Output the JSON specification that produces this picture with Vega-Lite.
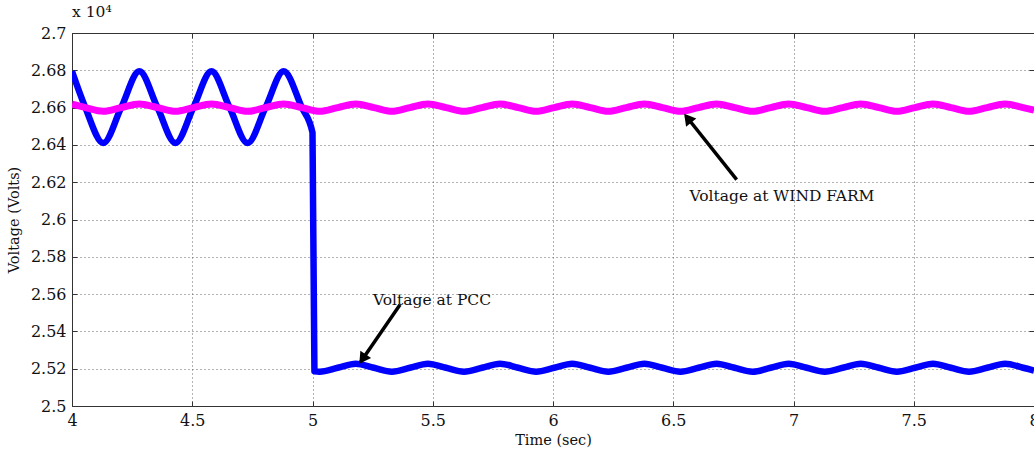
{
  "$schema": "https://vega.github.io/schema/vega-lite/v6.json",
  "width": 962,
  "height": 373,
  "autosize": "none",
  "padding": {"left": 72, "top": 33, "right": 0, "bottom": 45},
  "background": "white",
  "config": {"view": {"stroke": null}, "font": "DejaVu Serif"},
  "title": {"text": "x 10⁴", "anchor": "start", "frame": "group", "fontSize": 15.5, "font": "DejaVu Serif", "fontWeight": "normal", "offset": 5, "color": "#111"},
  "datasets": {
    "pcc": [
      {"t": 4.000, "v": 26795}, {"t": 4.055, "v": 26602}, {"t": 4.130, "v": 26410}, {"t": 4.205, "v": 26602},
      {"t": 4.280, "v": 26795}, {"t": 4.355, "v": 26602}, {"t": 4.430, "v": 26410}, {"t": 4.505, "v": 26602},
      {"t": 4.580, "v": 26795}, {"t": 4.655, "v": 26602}, {"t": 4.730, "v": 26410}, {"t": 4.805, "v": 26602},
      {"t": 4.880, "v": 26795}, {"t": 4.955, "v": 26602}, {"t": 5.000, "v": 26466}, {"t": 5.008, "v": 25186},
      {"t": 5.030, "v": 25184}, {"t": 5.105, "v": 25205}, {"t": 5.180, "v": 25227}, {"t": 5.255, "v": 25205},
      {"t": 5.330, "v": 25184}, {"t": 5.405, "v": 25205}, {"t": 5.480, "v": 25227}, {"t": 5.555, "v": 25205},
      {"t": 5.630, "v": 25184}, {"t": 5.705, "v": 25205}, {"t": 5.780, "v": 25227}, {"t": 5.855, "v": 25205},
      {"t": 5.930, "v": 25184}, {"t": 6.005, "v": 25205}, {"t": 6.080, "v": 25227}, {"t": 6.155, "v": 25205},
      {"t": 6.230, "v": 25184}, {"t": 6.305, "v": 25205}, {"t": 6.380, "v": 25227}, {"t": 6.455, "v": 25205},
      {"t": 6.530, "v": 25184}, {"t": 6.605, "v": 25205}, {"t": 6.680, "v": 25227}, {"t": 6.755, "v": 25205},
      {"t": 6.830, "v": 25184}, {"t": 6.905, "v": 25205}, {"t": 6.980, "v": 25227}, {"t": 7.055, "v": 25205},
      {"t": 7.130, "v": 25184}, {"t": 7.205, "v": 25205}, {"t": 7.280, "v": 25227}, {"t": 7.355, "v": 25205},
      {"t": 7.430, "v": 25184}, {"t": 7.505, "v": 25205}, {"t": 7.580, "v": 25227}, {"t": 7.655, "v": 25205},
      {"t": 7.730, "v": 25184}, {"t": 7.805, "v": 25205}, {"t": 7.880, "v": 25227}, {"t": 7.955, "v": 25205},
      {"t": 8.000, "v": 25190}
    ],
    "wind": [
      {"t": 4.000, "v": 26618}, {"t": 4.055, "v": 26600}, {"t": 4.130, "v": 26580}, {"t": 4.205, "v": 26600},
      {"t": 4.280, "v": 26619}, {"t": 4.355, "v": 26600}, {"t": 4.430, "v": 26580}, {"t": 4.505, "v": 26600},
      {"t": 4.580, "v": 26619}, {"t": 4.655, "v": 26600}, {"t": 4.730, "v": 26580}, {"t": 4.805, "v": 26600},
      {"t": 4.880, "v": 26619}, {"t": 4.955, "v": 26600}, {"t": 5.030, "v": 26580}, {"t": 5.105, "v": 26600},
      {"t": 5.180, "v": 26619}, {"t": 5.255, "v": 26600}, {"t": 5.330, "v": 26580}, {"t": 5.405, "v": 26600},
      {"t": 5.480, "v": 26619}, {"t": 5.555, "v": 26600}, {"t": 5.630, "v": 26580}, {"t": 5.705, "v": 26600},
      {"t": 5.780, "v": 26619}, {"t": 5.855, "v": 26600}, {"t": 5.930, "v": 26580}, {"t": 6.005, "v": 26600},
      {"t": 6.080, "v": 26619}, {"t": 6.155, "v": 26600}, {"t": 6.230, "v": 26580}, {"t": 6.305, "v": 26600},
      {"t": 6.380, "v": 26619}, {"t": 6.455, "v": 26600}, {"t": 6.530, "v": 26580}, {"t": 6.605, "v": 26600},
      {"t": 6.680, "v": 26619}, {"t": 6.755, "v": 26600}, {"t": 6.830, "v": 26580}, {"t": 6.905, "v": 26600},
      {"t": 6.980, "v": 26619}, {"t": 7.055, "v": 26600}, {"t": 7.130, "v": 26580}, {"t": 7.205, "v": 26600},
      {"t": 7.280, "v": 26619}, {"t": 7.355, "v": 26600}, {"t": 7.430, "v": 26580}, {"t": 7.505, "v": 26600},
      {"t": 7.580, "v": 26619}, {"t": 7.655, "v": 26600}, {"t": 7.730, "v": 26580}, {"t": 7.805, "v": 26600},
      {"t": 7.880, "v": 26619}, {"t": 7.955, "v": 26600}, {"t": 8.000, "v": 26586}
    ],
    "arrows": [
      {"arrow": "pcc", "t": 5.3638, "v": 25543},
      {"arrow": "pcc", "t": 5.2000, "v": 25236},
      {"arrow": "wind", "t": 6.7638, "v": 26214},
      {"arrow": "wind", "t": 6.5530, "v": 26555}
    ],
    "heads": [
      {"arrow": "pcc", "t": 5.208, "v": 25252},
      {"arrow": "wind", "t": 6.560, "v": 26543}
    ],
    "labels": [
      {"label": "Voltage at PCC", "t": 5.4969, "v": 25566},
      {"label": "Voltage at WIND FARM", "t": 6.952, "v": 26128}
    ]
  },
  "layer": [
    {
      "data": {"name": "pcc"},
      "mark": {"type": "line", "color": "#0000FF", "strokeWidth": 6.5, "interpolate": "monotone", "clip": true, "strokeJoin": "round"},
      "encoding": {
        "x": {"field": "t", "type": "quantitative", "scale": {"domain": [4, 8], "nice": false, "zero": false},
          "axis": {"orient": "bottom", "values": [4, 4.5, 5, 5.5, 6, 6.5, 7, 7.5, 8], "format": "~g", "title": "Time (sec)",
            "titleFont": "DejaVu Serif", "titleFontSize": 14.5, "titleFontWeight": "normal", "titleColor": "#111", "titleY": 34, "titleBaseline": "middle",
            "labelFont": "DejaVu Serif", "labelFontSize": 16, "labelColor": "#111", "labelPadding": 11, "labelFlush": false, "labelOverlap": false,
            "tickSize": -5, "tickColor": "#333", "domainColor": "#333", "grid": true, "gridColor": "#666", "gridDash": [1, 3], "gridWidth": 1}},
        "y": {"field": "v", "type": "quantitative", "scale": {"domain": [25000, 27000], "nice": false, "zero": false},
          "axis": {"orient": "left", "values": [25000, 25200, 25400, 25600, 25800, 26000, 26200, 26400, 26600, 26800, 27000],
            "labelExpr": "format(datum.value / 10000, '.4~f')", "title": "Voltage (Volts)",
            "titleFont": "DejaVu Serif", "titleFontSize": 14.5, "titleFontWeight": "normal", "titleColor": "#111", "titleX": -58, "titleY": 186.5, "titleAngle": -90, "titleBaseline": "middle", "titleAlign": "center",
            "labelFont": "DejaVu Serif", "labelFontSize": 16, "labelColor": "#111", "labelPadding": 11, "labelFlush": false, "labelOverlap": false,
            "tickSize": -5, "tickColor": "#333", "domainColor": "#333", "grid": true, "gridColor": "#666", "gridDash": [1, 3], "gridWidth": 1}}
      }
    },
    {
      "data": {"name": "wind"},
      "mark": {"type": "line", "color": "#FF00FF", "strokeWidth": 7, "interpolate": "monotone", "clip": true, "strokeJoin": "round"},
      "encoding": {
        "x": {"field": "t", "type": "quantitative",
          "axis": {"orient": "top", "values": [4, 4.5, 5, 5.5, 6, 6.5, 7, 7.5, 8], "labels": false, "title": null, "grid": false,
            "tickSize": -5, "tickColor": "#333", "domainColor": "#333"}},
        "y": {"field": "v", "type": "quantitative",
          "axis": {"orient": "right", "values": [25000, 25200, 25400, 25600, 25800, 26000, 26200, 26400, 26600, 26800, 27000], "labels": false, "title": null, "grid": false,
            "tickSize": -5, "tickColor": "#333", "domain": false}}
      }
    },
    {
      "data": {"name": "arrows"},
      "mark": {"type": "line", "color": "#000", "strokeWidth": 3.5},
      "encoding": {
        "x": {"field": "t", "type": "quantitative", "axis": null},
        "y": {"field": "v", "type": "quantitative", "axis": null},
        "detail": {"field": "arrow"}
      }
    },
    {
      "data": {"name": "heads"},
      "transform": [{"filter": "datum.arrow == 'pcc'"}],
      "mark": {"type": "point", "shape": "triangle-up", "filled": true, "color": "#000", "opacity": 1, "size": 170, "angle": 214.6},
      "encoding": {
        "x": {"field": "t", "type": "quantitative", "axis": null},
        "y": {"field": "v", "type": "quantitative", "axis": null}
      }
    },
    {
      "data": {"name": "heads"},
      "transform": [{"filter": "datum.arrow == 'wind'"}],
      "mark": {"type": "point", "shape": "triangle-up", "filled": true, "color": "#000", "opacity": 1, "size": 170, "angle": 321.5},
      "encoding": {
        "x": {"field": "t", "type": "quantitative", "axis": null},
        "y": {"field": "v", "type": "quantitative", "axis": null}
      }
    },
    {
      "data": {"name": "labels"},
      "mark": {"type": "text", "font": "DejaVu Serif", "fontSize": 15.5, "color": "#111", "align": "center", "baseline": "middle"},
      "encoding": {
        "x": {"field": "t", "type": "quantitative", "axis": null},
        "y": {"field": "v", "type": "quantitative", "axis": null},
        "text": {"field": "label"}
      }
    }
  ],
  "resolve": {"axis": {"x": "independent", "y": "independent"}}
}
